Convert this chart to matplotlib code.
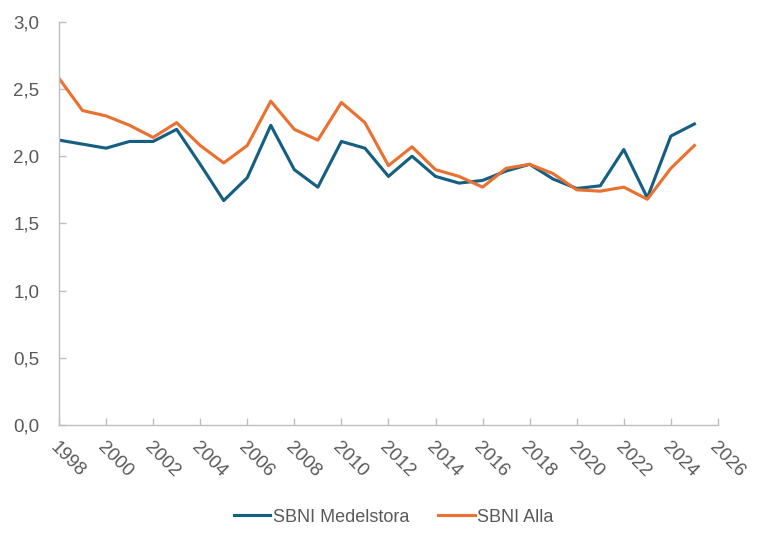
import matplotlib.pyplot as plt
from matplotlib.ticker import FuncFormatter

years = list(range(1998, 2026))
medelstora = [2.12, 2.09, 2.06, 2.11, 2.11, 2.20, 1.94, 1.67, 1.84, 2.23,
              1.90, 1.77, 2.11, 2.06, 1.85, 2.00, 1.85, 1.80, 1.82, 1.89,
              1.94, 1.83, 1.76, 1.78, 2.05, 1.69, 2.15, 2.24]
alla = [2.58, 2.34, 2.30, 2.23, 2.14, 2.25, 2.08, 1.95, 2.08, 2.41,
        2.20, 2.12, 2.40, 2.25, 1.93, 2.07, 1.90, 1.85, 1.77, 1.91,
        1.94, 1.87, 1.75, 1.74, 1.77, 1.68, 1.91, 2.08]
xticks = list(range(1998, 2027, 2))
yticks = [0.0, 0.5, 1.0, 1.5, 2.0, 2.5, 3.0]

plt.rcParams["font.family"] = ["Liberation Sans", "DejaVu Sans"]

grey = "#595959"
fig = plt.figure(figsize=(7.68, 5.46), dpi=100)
ax = fig.add_axes([0.0768, 0.2216, 0.858, 0.7384])

ax.plot(years, medelstora, color="#156082", lw=2.25, label="SBNI Medelstora")
ax.plot(years, alla, color="#E97132", lw=2.25, label="SBNI Alla")

ax.set_xlim(1998, 2026)
ax.set_ylim(0, 3)
ax.set_xticks(xticks)
ax.set_yticks(yticks)
ax.yaxis.set_major_formatter(FuncFormatter(lambda v, p: f"{v:.1f}".replace(".", ",")))

for s in ["top", "right"]:
    ax.spines[s].set_visible(False)
for s in ["left", "bottom"]:
    ax.spines[s].set_color("#BFBFBF")
    ax.spines[s].set_linewidth(1.0)

ax.tick_params(axis="both", direction="in", length=5, color="#BFBFBF", width=1.0)
ax.tick_params(axis="y", labelsize=13.5, labelcolor=grey, pad=14)
ax.tick_params(axis="x", labelsize=13.5, labelcolor=grey, pad=10)
for lab in ax.get_xticklabels():
    lab.set_rotation(-45)
    lab.set_ha("left")
    lab.set_va("top")
    lab.set_rotation_mode("anchor")

leg = fig.legend(loc="center", bbox_to_anchor=(0.513, 0.053), ncol=2, frameon=False,
                 handlelength=2.0, handletextpad=0.15, columnspacing=1.6,
                 prop={"size": 13})
for t in leg.get_texts():
    t.set_color(grey)

fig.savefig("out.png", dpi=100)
